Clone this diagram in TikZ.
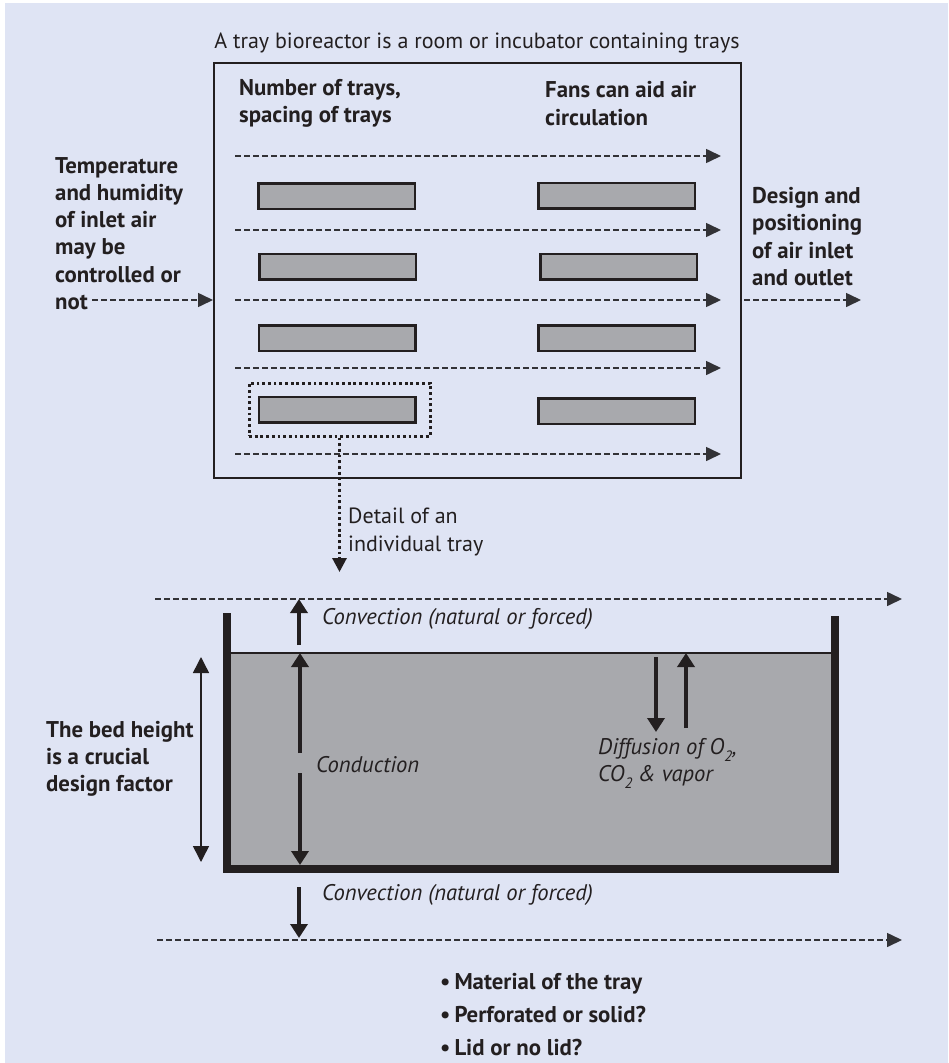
\documentclass[tikz,border=0pt]{standalone}
\usepackage{fontspec}
\setmainfont{PT Sans}
\usetikzlibrary{arrows.meta}
\definecolor{bg}{RGB}{223,228,244}
\definecolor{ink}{RGB}{35,31,32}
\definecolor{trayfill}{RGB}{168,169,173}
\definecolor{dashc}{RGB}{50,50,54}
\tikzset{
  airflow/.style={draw=dashc, line width=1.6pt, dash pattern=on 5.5pt off 3.5pt, -{Triangle[length=15pt,width=14pt]}},
  dotline/.style={draw=ink, line width=3pt, dash pattern=on 2.8pt off 2.9pt},
  heavy/.style={draw=ink, line width=4.8pt, -{Triangle[length=14pt,width=17pt]}},
  thinarrow/.style={draw=ink, line width=1.5pt, {Triangle[length=16pt,width=16pt]}-{Triangle[length=16pt,width=16pt]}},
  traybox/.style={draw=ink, fill=trayfill, line width=2.5pt, inner sep=0pt, minimum width=156.5pt, minimum height=25.5pt},
  lbl/.style={text=ink, inner sep=0pt, align=left, anchor=west, font=\fontsize{22}{27.3}\selectfont},
  blbl/.style={lbl, font=\fontsize{22.8}{27.3}\selectfont\bfseries},
  ilbl/.style={lbl, font=\fontsize{22.6}{27.3}\selectfont\itshape},
}
\newcommand{\subtwo}{\raisebox{-0.3em}{\fontsize{15}{15}\selectfont 2}}
\begin{document}
\begin{tikzpicture}[x=1pt,y=-1pt]
\useasboundingbox (0,0) rectangle (948,1063);
\fill[white] (0,0) rectangle (948,1063);
\fill[bg] (5,3) rectangle (948,1063);

% title
\node[lbl, anchor=center] (title) at (477,43) {A tray bioreactor is a room or incubator containing trays};

% room box
\node[draw=ink, line width=2.2pt, inner sep=0pt, minimum width=527pt, minimum height=415pt] (room) at (477.5,270.5) {};

\node[blbl] (ntrays) at (239,103.5) {Number of trays,\\spacing of trays};
\node[blbl] (fans) at (545,103.5) {Fans can aid air\\circulation};

% air flows inside
\foreach \i/\y in {1/156,2/230,3/300,4/368,5/454}{
  \coordinate (fs\i) at (235,\y);
  \coordinate (fe\i) at (721,\y);
  \draw[airflow] (fs\i) -- (fe\i);
}

% trays
\node[traybox] (l1) at (336.5,196) {};
\node[traybox] (l2) at (337.5,266.5) {};
\node[traybox] (l3) at (337,338) {};
\node[traybox] (l4) at (337,409.5) {};
\node[traybox] (r1) at (616.5,195.5) {};
\node[traybox] (r2) at (618.5,266.5) {};
\node[traybox] (r3) at (616.5,338) {};
\node[traybox] (r4) at (616.5,411) {};

% selection
\node[dotline, inner sep=0pt, minimum width=181pt, minimum height=53pt] (sel) at (339.5,409.5) {};
\coordinate (detailtip) at (339.5,572);
\draw[dotline, -{Triangle[length=14pt,width=14pt]}] (sel.south) -- (detailtip);
\node[lbl] (detail) at (348,532) {Detail of an\\individual tray};

% inlet / outlet
\node[blbl] (inlet) at (55,233.5) {Temperature\\and humidity\\of inlet air\\may be\\controlled or\\not};
\coordinate (ins) at (92,300);
\coordinate (ine) at (213,300);
\draw[airflow] (ins) -- (ine);
\node[blbl] (outlet) at (752,236.7) {Design and\\positioning\\of air inlet\\and outlet};
\coordinate (outs) at (744,300);
\coordinate (oute) at (861,300);
\draw[airflow] (outs) -- (oute);

% ---------- tray detail ----------
\coordinate (topa) at (155,599);
\coordinate (topb) at (902,599);
\draw[airflow] (topa) -- (topb);
\coordinate (bota) at (157,940);
\coordinate (botb) at (902,940);
\draw[airflow] (bota) -- (botb);

\node[fill=trayfill, inner sep=0pt, minimum width=601pt, minimum height=212pt] (bed) at (530.5,759) {};
\draw[ink, line width=2pt] (bed.north west) -- (bed.north east);
\draw[ink, line width=8pt, line join=miter] (226.5,613) -- (226.5,869) -- (835,869) -- (835,616);

% convection top
\coordinate (cu1) at (299,645);
\coordinate (cu2) at (299,599);
\draw[heavy] (cu1) -- (cu2);
\node[ilbl] (convtop) at (322,619) {Convection (natural or forced)};

% conduction
\coordinate (cd1) at (300,753);
\coordinate (cd2) at (300,653);
\coordinate (cd3) at (300,773);
\coordinate (cd4) at (300,865);
\draw[heavy] (cd1) -- (cd2);
\draw[heavy] (cd3) -- (cd4);
\node[ilbl] (cond) at (316,765) {Conduction};

% bed height
\coordinate (bh1) at (201,657);
\coordinate (bh2) at (201,862);
\draw[thinarrow] (bh1) -- (bh2);
\node[blbl] (bedh) at (46,759) {The bed height\\is a crucial\\design factor};

% diffusion
\coordinate (df1) at (656,657);
\coordinate (df2) at (656,732);
\coordinate (df3) at (686,728);
\coordinate (df4) at (686,653);
\draw[heavy] (df1) -- (df2);
\draw[heavy] (df3) -- (df4);
\node[ilbl] (diff) at (598,763.5) {Diffusion of O\subtwo,\\CO\subtwo\ \& vapor};

% convection bottom
\coordinate (cb1) at (299,887);
\coordinate (cb2) at (299,938);
\draw[heavy] (cb1) -- (cb2);
\node[ilbl] (convbot) at (322,895) {Convection (natural or forced)};

% bullets
\node[blbl, font=\fontsize{22.8}{33}\selectfont\bfseries] (bul) at (440,1015) {\textbullet\hspace{4pt}Material of the tray\\\textbullet\hspace{4pt}Perforated or solid?\\\textbullet\hspace{4pt}Lid or no lid?};
\end{tikzpicture}
\end{document}
